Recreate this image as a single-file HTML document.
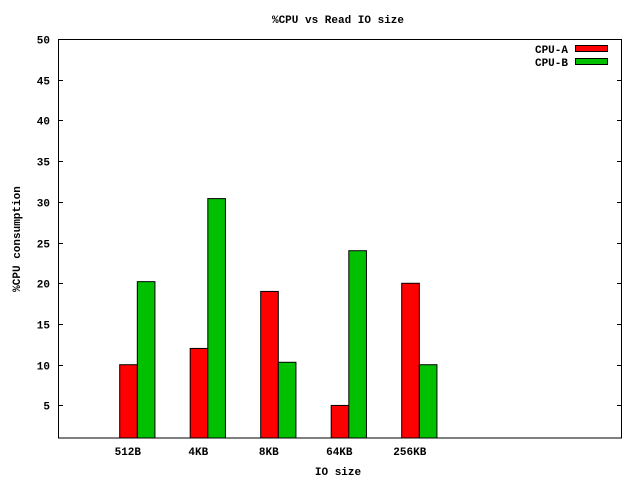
<!DOCTYPE html>
<html><head><meta charset="utf-8"><style>
body{margin:0;background:#fff}
svg text{font-family:"Liberation Mono",monospace;font-weight:bold;font-size:11px;fill:#000}
</style></head><body>
<svg width="640" height="480" xmlns="http://www.w3.org/2000/svg">
<rect width="640" height="480" fill="#fff"/>
<text x="338" y="23" text-anchor="middle">%CPU vs Read IO size</text>
<g id="yticks"></g>
<g id="bars"></g>
<g id="xlabels"></g>
<rect x="58.5" y="39.5" width="563" height="398.5" fill="none" stroke="#000" stroke-width="1"/>
<text x="338" y="475" text-anchor="middle">IO size</text>
<text transform="translate(20,239) rotate(-90)" text-anchor="middle">%CPU consumption</text>
<g>
<text x="568" y="53" text-anchor="end">CPU-A</text>
<rect x="575.5" y="45.5" width="32" height="6" fill="#ff0000" stroke="#000"/>
<text x="568" y="66" text-anchor="end">CPU-B</text>
<rect x="575.5" y="58.5" width="32" height="6" fill="#00c000" stroke="#000"/>
</g>
</svg>
<script>
const categories=["512B","4KB","8KB","64KB","256KB"];
const cpuA=[10,12,19,5,20];
const cpuB=[20.2,30.4,10.3,24,10];
const yTicks=[5,10,15,20,25,30,35,40,45,50];
const NS="http://www.w3.org/2000/svg";
const L=58,R=622,T=39,B=438,xmin=-1.125,xmax=6.875,ymin=1,ymax=50;
const X=v=>L+(v-xmin)/(xmax-xmin)*(R-L);
const Y=v=>B-(v-ymin)/(ymax-ymin)*(B-T);
function mk(tag,attrs,parent){const e=document.createElementNS(NS,tag);for(const k in attrs)e.setAttribute(k,attrs[k]);parent.appendChild(e);return e;}
const yt=document.getElementById('yticks');
yTicks.forEach(v=>{
  const y=Math.round(Y(v))+0.5;
  const t=mk('text',{x:50,y:y+4,'text-anchor':'end'},yt);t.textContent=v;
  
  
  const l1=mk('line',{x1:58,x2:63,y1:y,y2:y,stroke:'#000'},yt);
  
  
  const l2=mk('line',{x1:617,x2:622,y1:y,y2:y,stroke:'#000'},yt);
  
  
});
const bg=document.getElementById('bars'),xl=document.getElementById('xlabels');
const bw=0.25;
categories.forEach((c,i)=>{
  [[cpuA[i],'#ff0000',-bw,'a'],[cpuB[i],'#00c000',0,'b']].forEach(([v,col,off,s])=>{
    const x0=X(i+off),x1=X(i+off+bw),y=Y(v);
    const r=mk('rect',{x:x0,y:y,width:x1-x0,height:B-y,fill:col,stroke:'#000','stroke-width':1},bg);
    
    
  });
  const t=mk('text',{x:X(i)-9.5,y:455,'text-anchor':'middle'},xl);t.textContent=c;
  
  
});
</script>
</body></html>
